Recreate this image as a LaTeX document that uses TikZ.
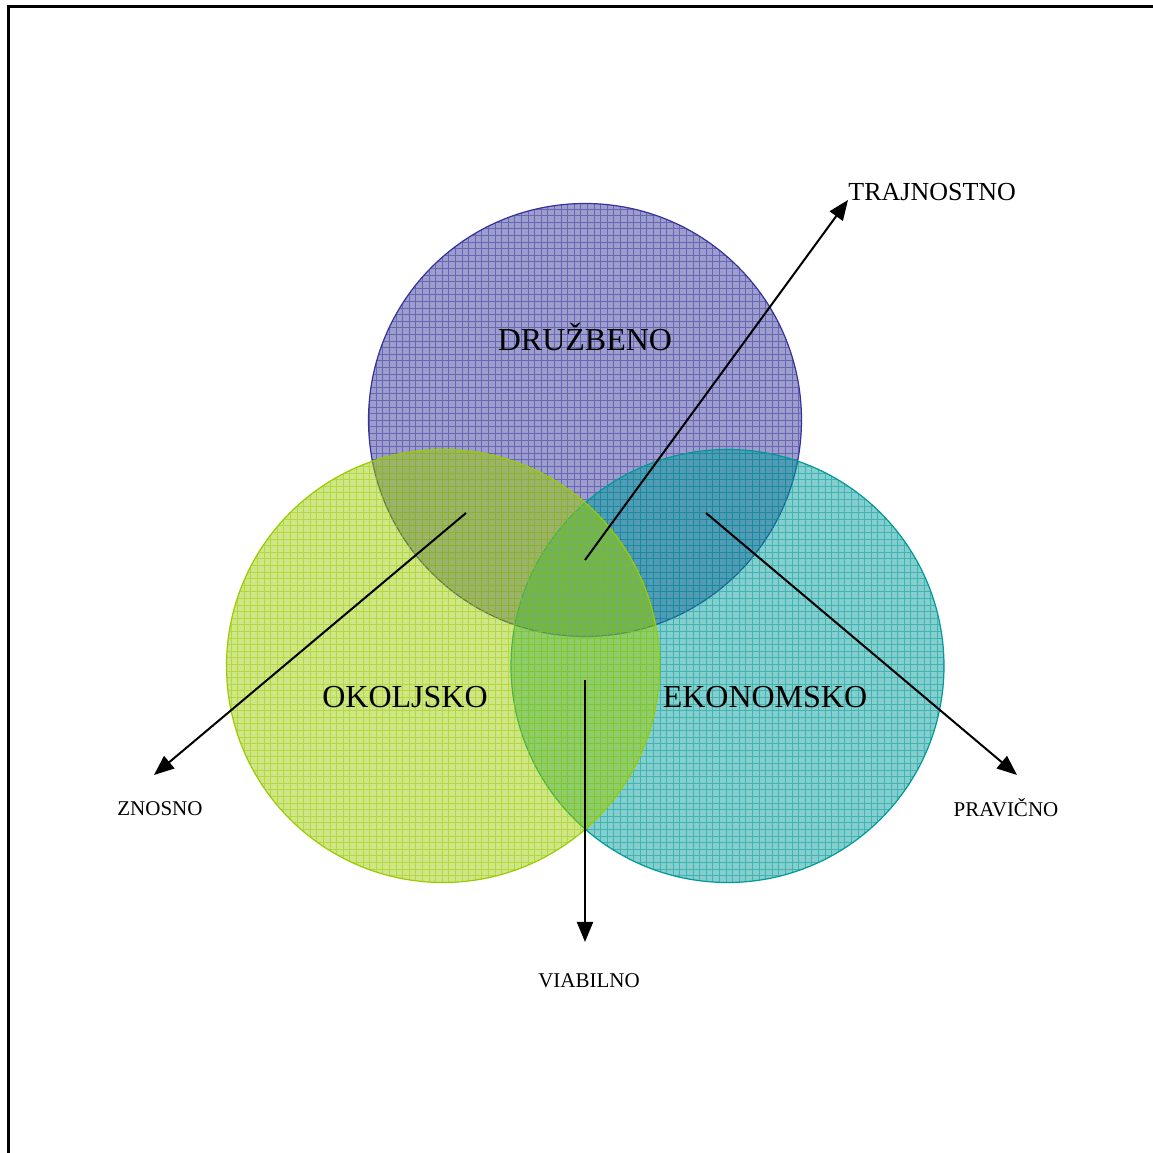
\documentclass[tikz,border=0pt]{standalone}
\usepackage{fontspec}
\setmainfont{Liberation Serif}
\usetikzlibrary{arrows.meta}
\definecolor{cpurple}{RGB}{51,51,153}
\definecolor{cgreen}{RGB}{153,204,0}
\definecolor{cteal}{RGB}{0,153,153}
\tikzset{
  arr/.style={line width=1pt,-{Triangle[length=10pt,width=8pt]}},
  big/.style={font=\fontsize{16}{18}\selectfont},
  small/.style={font=\fontsize{10.5}{12}\selectfont},
  mid/.style={font=\fontsize{13}{15}\selectfont},
}
\newcommand{\venncircle}[3]{%
  \fill[#3,fill opacity=0.48] #1 circle (#2);
  \begin{scope}
    \clip #1 circle (#2);
    \draw[#3,opacity=0.5,line width=0.5pt,step=6.6] (0,0) grid (1153,1153);
  \end{scope}
  \draw[#3,line width=0.6pt] #1 circle (#2);
}
\begin{document}
\begin{tikzpicture}[x=0.5pt,y=0.5pt]
\useasboundingbox (0,0) rectangle (1153,1153);
\fill[white] (0,0) rectangle (1153,1153);
\draw[line width=1.5pt] (8,0) -- (8,1146) -- (1153,1146);
\venncircle{(585,733)}{216.5}{cpurple}
\venncircle{(727.5,487)}{216.5}{cteal}
\venncircle{(443,487)}{216.5}{cgreen}
\node[big] (druz) at (585,816) {DRUŽBENO};
\node[big] (okol) at (405,456) {OKOLJSKO};
\node[big] (ekon) at (765,456) {EKONOMSKO};
\node[mid,anchor=west,inner sep=0pt] (traj) at (848,961) {TRAJNOSTNO};
\node[small] (znos) at (160,344) {ZNOSNO};
\node[small] (prav) at (1006,345) {PRAVIČNO};
\node[small] (viab) at (589,172) {VIABILNO};
\coordinate (s1) at (585,593);
\coordinate (e1) at (848,953);
\coordinate (s2) at (466,640);
\coordinate (e2) at (154,378);
\coordinate (s3) at (706,640);
\coordinate (e3) at (1017,378);
\coordinate (s4) at (585,473);
\coordinate (e4) at (585,211);
\draw[arr] (s1) -- (e1);
\draw[arr] (s2) -- (e2);
\draw[arr] (s3) -- (e3);
\draw[arr] (s4) -- (e4);
\end{tikzpicture}
\end{document}
